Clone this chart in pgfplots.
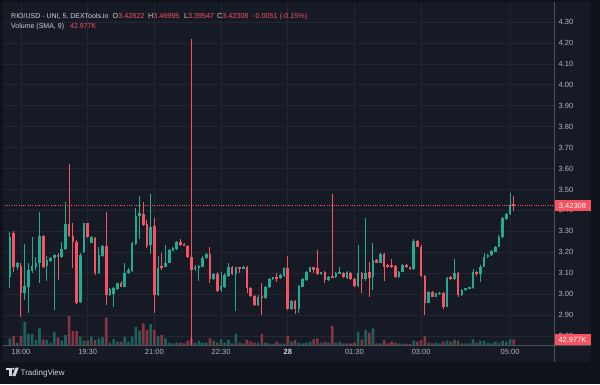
\documentclass[border=0pt]{standalone}
\usepackage{pgfplots}
\pgfplotsset{compat=1.18}
\usepackage{pgfplotstable}
\usepackage{fontspec}
\setmainfont{Liberation Sans}
\definecolor{outerbg}{HTML}{0F1219}
\definecolor{panelbg}{HTML}{161A25}
\definecolor{gridc}{HTML}{232733}
\definecolor{sepc}{HTML}{4E515C}
\definecolor{txtc}{HTML}{D1D4DC}
\definecolor{labelc}{HTML}{B2B5BE}
\definecolor{upc}{HTML}{22AB94}
\definecolor{downc}{HTML}{F7525F}
\definecolor{volup}{HTML}{1C625C}
\definecolor{voldown}{HTML}{863642}

% i = 5-minute candle index (0 = 18:00), o h l c = price, v = volume (K)
\pgfplotstableread{
i o h l c v
-3 3.080 3.298 3.027 3.271 58
-1 3.128 3.155 3.115 3.150 20
1 3.004 3.239 2.972 3.039 203
2 3.035 3.147 2.911 3.115 96
3 3.112 3.271 3.099 3.134 96
4 3.128 3.179 3.115 3.147 44
5 3.147 3.394 3.051 3.277 145
7 3.134 3.182 3.064 3.163 44
8 3.160 3.176 3.155 3.171 20
9 3.171 3.191 2.924 3.187 116
11 3.176 3.250 3.171 3.214 38
12 3.214 3.438 3.211 3.335 87
16 2.964 3.194 2.959 3.187 73
17 3.203 3.341 3.198 3.338 38
19 3.246 3.277 3.242 3.271 73
21 3.102 3.226 3.096 3.187 58
22 3.182 3.234 3.179 3.230 67
24 2.996 3.027 2.991 3.023 20
25 3.000 3.032 2.940 3.027 49
26 3.023 3.055 3.019 3.051 29
28 3.035 3.150 3.032 3.102 73
29 3.099 3.123 3.096 3.115 29
30 3.112 3.250 3.107 3.242 73
31 3.239 3.410 3.234 3.373 160
32 3.373 3.469 3.262 3.386 125
35 3.235 3.478 3.191 3.322 183
37 2.996 3.182 2.991 3.123 78
39 3.131 3.234 3.128 3.150 58
40 3.150 3.214 3.147 3.211 20
41 3.208 3.223 3.206 3.219 15
42 3.214 3.255 3.211 3.250 20
47 3.118 3.139 3.112 3.131 20
48 3.123 3.139 3.064 3.134 38
49 3.131 3.182 3.128 3.171 20
50 3.171 3.198 3.168 3.191 20
52 3.070 3.102 3.067 3.096 38
54 3.020 3.107 3.012 3.039 49
55 3.032 3.099 3.027 3.091 20
56 3.086 3.147 3.083 3.131 44
58 3.096 3.131 2.921 3.128 96
60 3.123 3.134 3.118 3.131 15
64 2.948 2.996 2.943 2.988 20
66 2.980 3.039 2.975 3.032 20
67 3.032 3.075 3.028 3.070 15
68 3.070 3.083 3.067 3.080 9
70 3.075 3.096 3.072 3.091 15
71 3.086 3.128 3.083 3.123 15
73 2.927 2.972 2.924 2.968 29
75 2.927 3.043 2.911 3.039 20
76 3.035 3.075 3.032 3.070 15
77 3.067 3.112 3.064 3.107 20
78 3.107 3.131 3.104 3.128 29
81 3.096 3.107 3.093 3.105 20
83 3.067 3.086 3.064 3.083 20
85 3.080 3.107 3.077 3.102 20
86 3.099 3.131 3.096 3.107 29
88 3.075 3.112 3.072 3.107 15
91 3.039 3.234 3.035 3.102 116
93 3.070 3.362 3.064 3.102 131
95 3.080 3.246 3.019 3.163 145
97 3.150 3.194 3.147 3.191 15
102 3.080 3.110 3.077 3.107 15
103 3.107 3.144 3.104 3.139 15
106 3.118 3.261 3.115 3.255 38
110 2.959 3.016 2.956 3.012 20
112 2.988 3.007 2.985 3.004 20
113 3.000 3.009 2.997 3.007 15
115 2.940 3.080 2.937 3.075 38
117 3.070 3.166 3.067 3.102 44
119 2.996 3.023 2.991 3.020 15
120 3.020 3.030 3.016 3.027 15
121 3.026 3.035 3.023 3.032 15
122 3.027 3.118 3.023 3.107 49
124 3.096 3.139 3.059 3.131 38
125 3.131 3.194 3.128 3.176 38
126 3.176 3.191 3.173 3.187 20
127 3.187 3.211 3.184 3.208 15
128 3.203 3.230 3.200 3.226 29
129 3.226 3.282 3.223 3.271 20
130 3.271 3.366 3.268 3.362 38
131 3.357 3.386 3.354 3.383 29
132 3.383 3.481 3.380 3.426 49
}\upcandles

\pgfplotstableread{
i o h l c v
-2 3.290 3.303 3.107 3.131 78
0 3.134 3.147 2.892 3.004 78
6 3.277 3.282 3.123 3.131 49
10 3.187 3.194 3.067 3.176 67
13 3.335 3.622 3.271 3.277 252
14 3.277 3.341 3.123 3.250 122
15 3.250 3.258 2.953 2.959 122
18 3.338 3.341 3.266 3.271 38
20 3.266 3.271 3.091 3.099 44
23 3.230 3.394 2.948 2.996 238
27 3.054 3.064 3.032 3.035 29
33 3.383 3.442 3.325 3.330 189
34 3.335 3.354 3.219 3.230 131
36 3.325 3.362 2.908 2.996 131
38 3.134 3.194 3.115 3.123 87
43 3.250 3.261 3.230 3.234 20
44 3.239 3.242 3.228 3.231 15
45 3.231 3.234 3.171 3.176 38
46 3.176 4.220 2.700 3.115 58
51 3.191 3.223 3.051 3.070 58
53 3.096 3.107 3.012 3.016 20
57 3.131 3.134 3.091 3.096 15
59 3.128 3.131 3.102 3.118 20
61 3.131 3.134 3.004 3.027 44
62 3.027 3.035 2.988 2.991 29
63 2.991 2.996 2.943 2.948 20
65 2.991 3.051 2.900 2.980 96
69 3.080 3.102 3.059 3.070 29
72 3.123 3.182 2.924 2.927 78
74 2.968 2.972 2.905 2.927 44
79 3.128 3.131 3.099 3.115 49
80 3.123 3.211 3.091 3.096 58
82 3.105 3.112 3.054 3.067 29
84 3.086 3.478 3.075 3.080 165
87 3.102 3.107 3.075 3.080 15
89 3.102 3.107 3.067 3.070 15
90 3.070 3.075 3.035 3.039 20
92 3.102 3.107 3.004 3.070 49
94 3.107 3.155 2.988 3.075 107
96 3.163 3.166 3.147 3.150 15
98 3.191 3.194 3.064 3.131 44
99 3.139 3.144 3.125 3.128 15
100 3.139 3.166 3.125 3.128 29
101 3.134 3.139 3.075 3.080 20
104 3.139 3.142 3.125 3.128 9
105 3.128 3.131 3.115 3.118 9
107 3.255 3.258 3.223 3.226 29
108 3.226 3.234 3.083 3.086 44
109 3.086 3.091 2.900 2.959 78
111 3.012 3.016 2.985 2.988 15
114 3.007 3.009 2.927 2.940 29
116 3.080 3.086 3.067 3.070 29
118 3.102 3.107 2.988 2.996 38
123 3.107 3.110 3.086 3.096 20
133 3.42822 3.46995 3.39547 3.42308 49
}\downcandles

\pgfplotsset{
  candlepart/.style 2 args={color=#1, draw=none, mark=none, forget plot,
    error bars/.cd, y dir=both, y explicit, error mark=none,
    error bar style={draw=#1, color=#1, draw opacity=1, solid, line width=#2}},
}

\begin{document}
\begin{tikzpicture}[x=1pt,y=1pt]
\useasboundingbox (0,0) rectangle (600,384);
\fill[outerbg] (0,0) rectangle (600,384);
\fill[panelbg] (3,22) rectangle (591,382);
\begin{axis}[
  at={(3pt,39pt)}, anchor=south west,
  width=551pt, height=342pt, scale only axis,
  xmin=-4.858, xmax=143.86, ymin=2.7567, ymax=4.3908,
  axis line style={draw=none},
  tick style={draw=none},
  major tick length=0pt,
  xtick={0,18,36,54,72,90,108,132},
  xticklabels={18:00,19:30,21:00,22:30,{\textcolor{txtc}{\textbf{28}}},01:30,03:00,05:00},
  ytick={2.8,2.9,3.0,3.1,3.2,3.3,3.4,3.5,3.6,3.7,3.8,3.9,4.0,4.1,4.2,4.3},
  yticklabel pos=right,
  /pgf/number format/assume math mode=true,
  yticklabel={\pgfmathprintnumber[fixed,zerofill,precision=2]{\tick}},
  xmajorgrids, ymajorgrids,
  grid style={gridc, line width=0.6pt},
  ticklabel style={font=\fontsize{7.5}{9}\selectfont, text=labelc},
  xticklabel style={anchor=center, yshift=-7pt},
  yticklabel style={anchor=west, inner sep=0pt, xshift=4.5pt},
]
% volume (scaled into the bottom of the panel)
\addplot[ybar, bar width=2.6pt, bar shift=0pt, fill=volup, draw=none, mark=none]
  table[x=i, y expr={2.7567+\thisrow{v}/1821}] {\upcandles};
\addplot[ybar, bar width=2.6pt, bar shift=0pt, fill=voldown, draw=none, mark=none]
  table[x=i, y expr={2.7567+\thisrow{v}/1821}] {\downcandles};
% wicks
\addplot[candlepart={upc}{1pt}]
  table[x=i, y expr={(\thisrow{h}+\thisrow{l})/2}, y error expr={(\thisrow{h}-\thisrow{l})/2}] {\upcandles};
\addplot[candlepart={downc}{1pt}]
  table[x=i, y expr={(\thisrow{h}+\thisrow{l})/2}, y error expr={(\thisrow{h}-\thisrow{l})/2}] {\downcandles};
% bodies
\addplot[candlepart={upc}{2.6pt}]
  table[x=i, y expr={(\thisrow{o}+\thisrow{c})/2}, y error expr={max(abs(\thisrow{c}-\thisrow{o})/2,0.0025)}] {\upcandles};
\addplot[candlepart={downc}{2.6pt}]
  table[x=i, y expr={(\thisrow{o}+\thisrow{c})/2}, y error expr={max(abs(\thisrow{c}-\thisrow{o})/2,0.0025)}] {\downcandles};
% last price line
\addplot[downc, mark=none, line width=0.6pt, dash pattern=on 0.7pt off 1.6pt] coordinates {(-5,3.42308) (144,3.42308)};
\end{axis}
% separators
\draw[sepc, line width=0.7pt] (554,22) -- (554,382);
\draw[sepc, line width=0.7pt] (3,39) -- (591,39);
% price axis labels
\node[fill=downc, text=white, inner sep=0pt, minimum width=36pt, minimum height=11pt, anchor=west,
  font=\fontsize{7.5}{9}\selectfont] at (554.3,178.5) {3.42308};
\node[fill=downc, text=white, inner sep=0pt, minimum width=36pt, minimum height=11pt, anchor=west,
  font=\fontsize{7.5}{9}\selectfont] at (554.3,44.5) {42.977K};
% header
\begin{scope}[every node/.style={anchor=base west, inner sep=0pt, font=\fontsize{7}{8}\selectfont, text=txtc}]
\node at (11,365.8) {RIO/USD - UNI, 5, DEXTools.io};
\node[font=\fontsize{7.2}{8}\selectfont] at (112.5,365.8) {O\textcolor{downc}{3.42822}};
\node[font=\fontsize{7.2}{8}\selectfont] at (148,365.8) {H\textcolor{downc}{3.46995}};
\node[font=\fontsize{7.2}{8}\selectfont] at (184,365.8) {L\textcolor{downc}{3.39547}};
\node[font=\fontsize{7.2}{8}\selectfont] at (217,365.8) {C\textcolor{downc}{3.42308}};
\node[text=downc, font=\fontsize{7.2}{8}\selectfont] at (253,365.8) {-0.0051 (-0.15\%)};
\node at (11,355.5) {Volume (SMA, 9)};
\node[text=downc] at (70,355.5) {42.977K};
\end{scope}
% TradingView logo
\fill[txtc] (6,14.5) rectangle (11.5,16.5);
\fill[txtc] (8.6,8) rectangle (11.5,16.5);
\fill[txtc] (13.3,15.2) circle (1.3);
\fill[txtc] (15.6,16.5) -- (18.8,16.5) -- (15.4,8) -- (12.2,8) -- cycle;
\node[anchor=base west, inner sep=0pt, font=\fontsize{8}{9}\selectfont, text=txtc] at (20.5,9) {TradingView};
\end{tikzpicture}
\end{document}
